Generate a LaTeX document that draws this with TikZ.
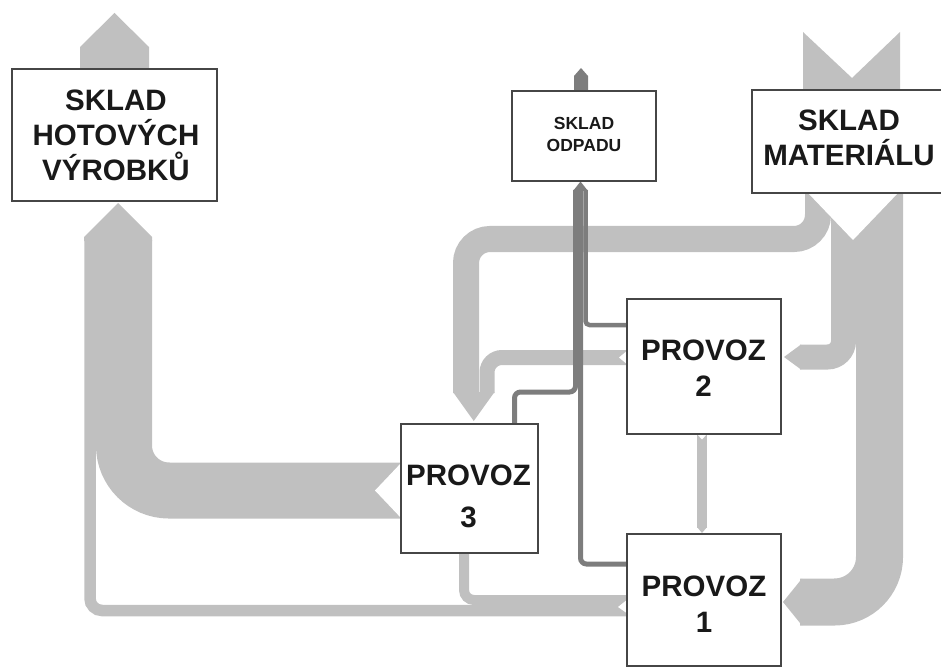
\documentclass[tikz,border=0pt]{standalone}
\usepackage{fontspec}
\setmainfont{Liberation Sans}
\definecolor{band}{RGB}{192,192,192}
\definecolor{waste}{RGB}{125,125,125}
\definecolor{frame}{RGB}{70,70,70}
\definecolor{txt}{RGB}{25,25,25}
\pgfdeclarelayer{bg}
\pgfsetlayers{bg,main}
\begin{document}
\begin{tikzpicture}[x=1pt,y=-1pt,
  box/.style={draw=frame, line width=1.3pt, fill=white, inner sep=0pt},
  lbl/.style={align=center, text=txt, inner sep=0pt, font=\bfseries\fontsize{29.5}{35}\selectfont},
  lband/.style={draw=band},
  wline/.style={draw=waste}]
\useasboundingbox (0,0) rectangle (941,668);

% boxes
\node[box, minimum width=205pt, minimum height=132pt] (SHV) at (114.5,135) {};
\node[lbl] (SHVt) at (116,135.5) {SKLAD\\HOTOVÝCH\\VÝROBKŮ};
\node[box, minimum width=144pt, minimum height=90pt] (SKO) at (584,136) {};
\node[lbl, font=\bfseries\fontsize{17.5}{22}\selectfont] (SKOt) at (584,134.75) {SKLAD\\ODPADU};
\node[box, minimum width=189.5pt, minimum height=103pt] (SKM) at (846.75,141.5) {};
\node[lbl] (SKMt) at (849,138) {SKLAD\\MATERIÁLU};
\node[box, minimum width=154pt, minimum height=135pt] (P2) at (704,366.5) {};
\node[lbl, font=\bfseries\fontsize{29.5}{36}\selectfont] (P2t) at (703.5,368.5) {PROVOZ\\2};
\node[box, minimum width=154pt, minimum height=132pt] (P1) at (704,600) {};
\node[lbl, font=\bfseries\fontsize{29.5}{36}\selectfont] (P1t) at (704,604.5) {PROVOZ\\1};
\node[box, minimum width=137pt, minimum height=129pt] (P3) at (469.5,488.5) {};
\node[lbl, font=\bfseries\fontsize{29.5}{42}\selectfont] (P3t) at (468.5,496.5) {PROVOZ\\3};

\begin{pgfonlayer}{bg}
% ---- light flows ----
% out of SKLAD HOTOVYCH VYROBKU (top)
\fill[band] (80,70) -- (80,47) -- (114.5,13) -- (149,47) -- (149,70) -- cycle;
% into SKLAD MATERIALU (top)
\fill[band] (803,92) -- (803,32) -- (852,78) -- (900,32) -- (900,92) -- cycle;
% P3 -> SHV
\draw[lband, line width=56pt, rounded corners=45pt] (P3.west |- 0,490.5) -| (124,240);
\fill[white] (402,462) -- (375,490.5) -- (402,519) -- cycle;
% P1 -> SHV
\draw[lband, line width=11.5pt, rounded corners=12pt] (P1.west |- 0,610.5) -| (90,240);
\fill[band] (84,241) -- (84,237) -- (118,203) -- (152,237) -- (152,241) -- cycle;
% SKM -> P3
\draw[lband, line width=26pt, rounded corners=24pt] (SKM.south -| 818,0) -- (818,239) -| (466,393);
% P2 -> P3
\draw[lband, line width=15pt, rounded corners=15pt] (P2.west |- 0,357.5) -| (487,393);
\fill[band] (453,392) -- (473.75,421) -- (494.5,392) -- cycle;
\fill[white] (628,350) -- (619,357.5) -- (628,365) -- cycle;
% SKM -> P2
\draw[lband, line width=25pt, rounded corners=16pt] (SKM.south -| 843.5,0) -- (843.5,357) -- (800,357);
\fill[band] (801,344.5) -- (784,357) -- (801,369.5) -- cycle;
% SKM -> P1
\draw[lband, line width=47pt, rounded corners=45pt] (SKM.south -| 879.5,0) -- (879.5,602) -- (800,602);
\fill[band] (802,578.5) -- (783,602) -- (802,625.5) -- cycle;
% swallow-tail below SKM
\fill[white] (808,193) -- (853,240) -- (898,193) -- cycle;
% P2 -> P1
\draw[lband, line width=10pt] ([xshift=-2pt]P2.south) -- (702,528);
\fill[band] (697,527) -- (702,533) -- (707,527) -- cycle;
\fill[white] (697,434) -- (702,439.5) -- (707,434) -- cycle;
% P3 -> P1
\draw[lband, line width=10pt, rounded corners=10pt] (P3.south -| 464,0) |- (P1.west |- 0,600);
\fill[white] (628,599) -- (618,607) -- (628,614) -- cycle;

% ---- waste flows ----
\fill[waste] (574,92) -- (574,76) -- (581,68) -- (588,76) -- (588,92) -- cycle;
\draw[wline, line width=4.5pt, rounded corners=4pt] (P2.west |- 0,325) -| (585.5,190);
\draw[wline, line width=5pt, rounded corners=6pt] (P3.north -| 514.5,0) |- (575.5,392) -- (575.5,190);
\draw[wline, line width=5pt, rounded corners=6pt] (P1.west |- 0,564) -| (580.5,190);
\fill[waste] (573,191) -- (580.5,181.5) -- (588,191) -- cycle;
\end{pgfonlayer}
\end{tikzpicture}
\end{document}
